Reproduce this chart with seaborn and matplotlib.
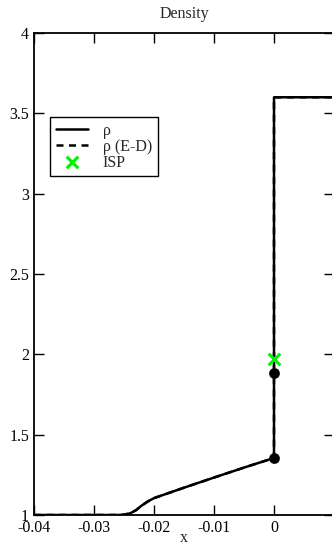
import matplotlib
matplotlib.use("Agg")
import matplotlib.pyplot as plt
import seaborn as sns

# Density profile across the interface
x_rho = [-0.04, -0.026, -0.025, -0.024, -0.023, -0.022, -0.021, -0.020,
         -0.015, -0.010, -0.005, 0.0, 0.0, 0.01]
rho = [1.0, 1.0, 1.002, 1.01, 1.03, 1.06, 1.085, 1.105,
       1.17, 1.233, 1.295, 1.355, 3.6, 3.6]
rho_ed = list(rho)

# Marked states on the interface
dot_x = [0.0, 0.0]
dot_y = [1.355, 1.886]
isp_x = [0.0]
isp_y = [1.969]

x_ticks = [-0.04, -0.03, -0.02, -0.01, 0.0]
x_ticklabels = ["-0.04", "-0.03", "-0.02", "-0.01", "0"]
y_ticks = [1, 1.5, 2, 2.5, 3, 3.5, 4]
y_ticklabels = ["1", "1.5", "2", "2.5", "3", "3.5", "4"]

sns.set_style("ticks")
plt.rcParams["font.family"] = ["Liberation Serif", "DejaVu Serif"]
plt.rcParams["axes.unicode_minus"] = False
FS = 11.5
plt.rcParams["font.size"] = FS

W, H = 332, 545
fig = plt.figure(figsize=(W / 100, H / 100), dpi=100)
ax = fig.add_axes([34 / W, 1 - 515 / H, 300 / W, (515 - 33) / H])

sns.lineplot(x=x_rho, y=rho, sort=False, estimator=None, ax=ax,
             color="black", linewidth=1.8, label="ρ")
sns.lineplot(x=x_rho, y=rho_ed, sort=False, estimator=None, ax=ax,
             color="black", linewidth=1.8, linestyle=(0, (2.8, 2.2)),
             label="ρ (E-D)")
sns.scatterplot(x=dot_x, y=dot_y, ax=ax, color="black", s=60,
                edgecolor="black", linewidth=0, legend=False, zorder=5)
sns.scatterplot(x=isp_x, y=isp_y, ax=ax, color="#00f000", marker="x",
                s=70, linewidth=2.2, label="ISP", zorder=6)

ax.set_xlim(-0.04, 0.01)
ax.set_ylim(1, 4)
ax.set_xticks(x_ticks)
ax.set_xticklabels(x_ticklabels)
ax.set_yticks(y_ticks)
ax.set_yticklabels(y_ticklabels)
ax.tick_params(direction="in", length=7, width=1, top=True, right=True,
               labelsize=FS, pad=3.5, colors="black")
for s in ax.spines.values():
    s.set_linewidth(1.3)
    s.set_color("black")

ax.set_title("Density", fontsize=FS, pad=11)
ax.set_xlabel("x", fontsize=FS, labelpad=-4.5)
ax.set_ylabel("")

leg = ax.legend(loc="upper left", bbox_to_anchor=(50 / W, 1 - 117 / H),
                bbox_transform=fig.transFigure, borderaxespad=0,
                frameon=True, fancybox=False, framealpha=1,
                edgecolor="black", fontsize=FS, handlelength=2.0,
                handletextpad=0.95, labelspacing=0.0, borderpad=0.35)
leg.get_frame().set_linewidth(1.0)

fig.savefig("out.png", dpi=100)
